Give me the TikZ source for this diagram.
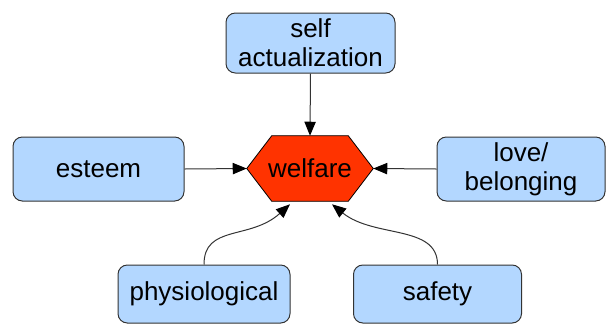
\documentclass[tikz,border=0pt]{standalone}
\usepackage{fontspec}
\setmainfont{Liberation Sans}
\usetikzlibrary{arrows.meta}
\pgfdeclarelayer{bg}
\pgfsetlayers{bg,main}
\definecolor{boxblue}{HTML}{B3D7FF}
\definecolor{hexred}{HTML}{FF3300}
\definecolor{linec}{HTML}{333333}
\newcommand{\dfont}{\fontsize{19.5pt}{22pt}\selectfont}
\tikzset{
  box/.style={draw=linec, fill=boxblue, rounded corners=7pt, line width=0.75pt,
    align=center, font=\dfont, inner sep=0pt},
  conn/.style={draw=linec, line width=0.75pt, -{Triangle[length=10.5pt,width=8.5pt,fill=black,color=black]}},
}
\begin{document}
\begin{tikzpicture}[x=0.75pt,y=-0.75pt]
\useasboundingbox (0,0) rectangle (610,326);
\node[box, minimum width=126.75pt, minimum height=45pt] (self) at (310.5,43) {self\\actualization};
\node[box, minimum width=128.25pt, minimum height=48pt] (est) at (98.5,169) {esteem};
\node[box, minimum width=126pt, minimum height=48pt] (love) at (521,169) {love/\\belonging};
\node[box, minimum width=129pt, minimum height=43.5pt] (phys) at (204,294) {physiological};
\node[box, minimum width=126pt, minimum height=43.5pt] (safe) at (437.5,294) {safety};
\node[font=\dfont, minimum width=94.5pt, minimum height=48.75pt, inner sep=0pt] (w) at (310,168.5) {welfare};
\begin{pgfonlayer}{bg}
\draw[fill=hexred, draw=black, line width=0.6pt]
  (w.west) -- ([xshift=18.75pt]w.north west) -- ([xshift=-18.75pt]w.north east)
  -- (w.east) -- ([xshift=-18.75pt]w.south east) -- ([xshift=18.75pt]w.south west) -- cycle;
\end{pgfonlayer}
\draw[conn] (self.south) -- (w.north);
\draw[conn] (est.east) -- (w.west);
\draw[conn] (love.west) -- (w.east);
\draw[conn] (phys.north) .. controls +(0,-40) and +(-40,36) .. ([xshift=-15pt,yshift=-2.25pt]w.south);
\draw[conn] (safe.north) .. controls +(0,-40) and +(42,34) .. ([xshift=16.5pt,yshift=-2.25pt]w.south);
\end{tikzpicture}
\end{document}
